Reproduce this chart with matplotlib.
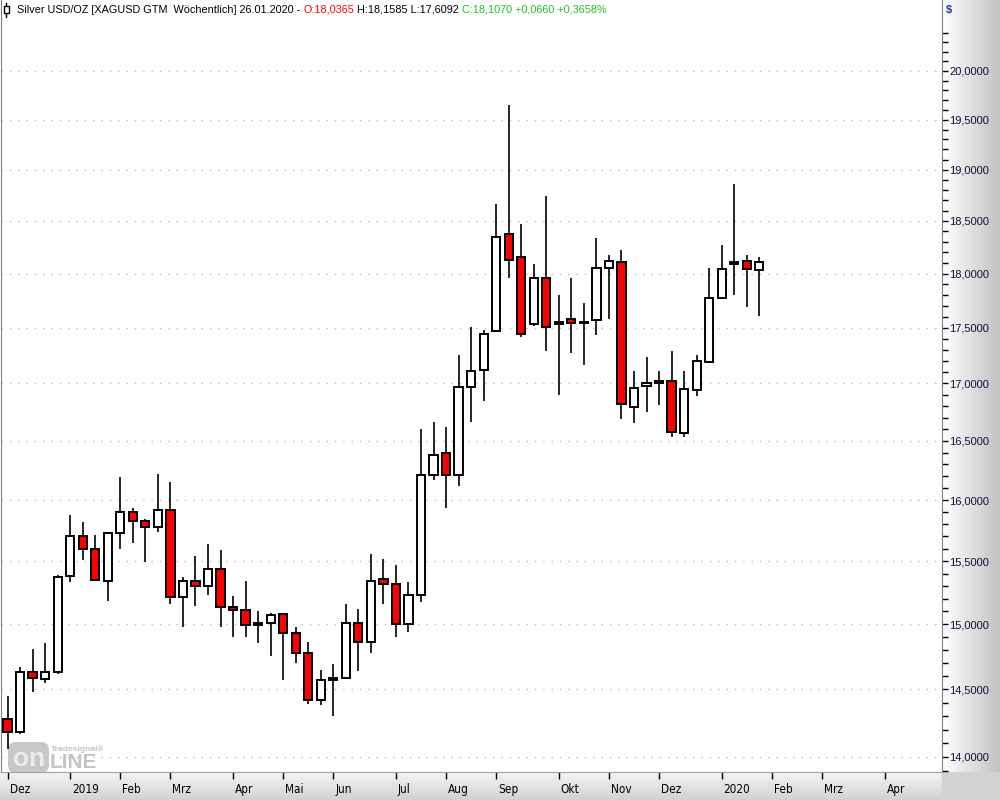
import numpy as np
import matplotlib
matplotlib.use('Agg')
import matplotlib.pyplot as plt
from matplotlib.patches import FancyBboxPatch, Rectangle
from matplotlib.lines import Line2D
from matplotlib.ticker import FixedLocator, FuncFormatter, NullFormatter
from matplotlib.transforms import ScaledTranslation

# weekly silver candles, week ending 02.12.2018 ... 26.01.2020
opens = [14.28, 14.18, 14.63, 14.58, 14.63, 15.38, 15.70, 15.60, 15.34, 15.73,
         15.90, 15.83, 15.78, 15.92, 15.21, 15.34, 15.30, 15.44, 15.135, 15.11,
         14.99, 15.01, 15.08, 14.93, 14.78, 14.42, 14.57, 14.585, 15.01, 14.86,
         15.36, 15.32, 15.00, 15.23, 16.21, 16.40, 16.21, 16.97, 17.12, 17.47,
         18.37, 18.16, 17.53, 17.96, 17.53, 17.58, 17.55, 17.57, 18.05, 18.11,
         16.79, 16.975, 17.00, 17.02, 16.565, 16.94, 17.19, 17.77, 18.09, 18.12,
         18.0365]
highs = [14.45, 14.67, 14.81, 14.85, 15.39, 15.88, 15.82, 15.71, 15.73, 16.19,
         15.93, 15.84, 16.22, 16.15, 15.375, 15.54, 15.64, 15.59, 15.22, 15.34,
         15.10, 15.09, 15.09, 14.98, 14.86, 14.65, 14.69, 15.16, 15.12, 15.56,
         15.52, 15.47, 15.33, 16.60, 16.66, 16.62, 17.25, 17.51, 17.48, 18.66,
         19.65, 18.47, 18.09, 18.74, 17.80, 17.96, 17.73, 18.34, 18.17, 18.22,
         17.11, 17.24, 17.11, 17.29, 17.11, 17.25, 18.05, 18.27, 18.86, 18.17,
         18.1585]
lows = [14.06, 14.17, 14.48, 14.55, 14.62, 15.33, 15.51, 15.34, 15.18, 15.60,
        15.65, 15.49, 15.74, 15.16, 14.98, 15.14, 15.23, 14.98, 14.90, 14.90,
        14.85, 14.75, 14.57, 14.70, 14.39, 14.38, 14.30, 14.58, 14.64, 14.78,
        15.16, 14.90, 14.94, 15.17, 16.17, 15.93, 16.12, 16.66, 16.85, 17.46,
        17.96, 17.42, 17.52, 17.29, 16.90, 17.27, 17.16, 17.43, 17.58, 16.69,
        16.65, 16.75, 16.81, 16.53, 16.53, 16.89, 17.18, 17.76, 17.80, 17.69,
        17.6092]
closes = [14.18, 14.63, 14.585, 14.63, 15.375, 15.70, 15.60, 15.35, 15.73, 15.90,
          15.83, 15.78, 15.92, 15.21, 15.34, 15.30, 15.44, 15.135, 15.11, 14.99,
          15.01, 15.07, 14.93, 14.775, 14.42, 14.57, 14.585, 15.01, 14.86, 15.34,
          15.32, 15.00, 15.23, 16.21, 16.38, 16.21, 16.97, 17.11, 17.44, 18.35,
          18.13, 17.44, 17.96, 17.51, 17.55, 17.545, 17.545, 18.05, 18.12, 16.82,
          16.96, 17.00, 17.02, 16.575, 16.95, 17.20, 17.77, 18.04, 18.11, 18.04,
          18.1070]

tick_pos = [0, 5, 9, 13, 18, 22, 26, 31, 35, 39, 44, 48, 52, 57, 61, 65, 70]
tick_labels = ['Dez', '2019', 'Feb', 'Mrz', 'Apr', 'Mai', 'Jun', 'Jul', 'Aug',
               'Sep', 'Okt', 'Nov', 'Dez', '2020', 'Feb', 'Mrz', 'Apr']
y_major = [14.0, 14.5, 15.0, 15.5, 16.0, 16.5, 17.0, 17.5, 18.0, 18.5, 19.0, 19.5, 20.0]

W, H = 1000, 800
fig = plt.figure(figsize=(10, 8), dpi=100)
fig.patch.set_facecolor('white')


def fx(px):
    return px / W


def fy(py):
    return 1 - py / H


# grey panels behind the axis labels
bg = fig.add_axes([0, 0, 1, 1], zorder=0)
grad_h = np.linspace(1.0, 0.76, 64).reshape(1, -1)
bg.imshow(grad_h, extent=(942, 1000, 772, 0), cmap='gray', vmin=0, vmax=1,
          aspect='auto', interpolation='bilinear')
grad_v = np.linspace(0.96, 0.82, 32).reshape(-1, 1)
bg.imshow(grad_v, extent=(0, 942, 800, 772), cmap='gray', vmin=0, vmax=1,
          aspect='auto', interpolation='bilinear')
bg.add_patch(Rectangle((942, 772), 58, 28, color='#d2d2d2'))
bg.set_xlim(0, W)
bg.set_ylim(H, 0)
bg.axis('off')

ax = fig.add_axes([0.001, 0.035, 0.941, 0.965], zorder=1)
ax.set_yscale('log')
ax.set_ylim(13.89, 20.752)
ax.set_xlim(-0.52, 74.58)

idx = np.arange(len(closes))
o = np.array(opens)
c = np.array(closes)
body_col = ['#ff0000' if cc < oo else 'white' for oo, cc in zip(o, c)]
bottoms = np.minimum(o, c)
heights = np.maximum(np.abs(c - o), 0.004)
ax.vlines(idx, lows, highs, color='black', linewidth=1.2, zorder=3)
ax.bar(idx, heights, 0.66, bottom=bottoms, color=body_col, edgecolor='black',
       linewidth=1.4, zorder=4)

# y axis on the right, comma decimals
ax.yaxis.tick_right()
ax.yaxis.set_major_locator(FixedLocator(y_major))
ax.yaxis.set_major_formatter(FuncFormatter(lambda v, p: ('%.4f' % v).replace('.', ',')))
minor = [round(v / 10, 1) for v in range(139, 206) if v % 5 != 0]
ax.yaxis.set_minor_locator(FixedLocator(minor))
ax.yaxis.set_minor_formatter(NullFormatter())
ax.tick_params(axis='y', which='both', direction='out', length=4, width=1,
               colors='black', labelsize=8, pad=1)
for lab in ax.get_yticklabels():
    lab.set_fontfamily(['Liberation Sans', 'DejaVu Sans'])
    lab.set_color('#10103a')
ax.grid(axis='y', which='major', color='#a8c4a8', linestyle=(0, (1, 5)), linewidth=1.0)
ax.grid(axis='x', visible=False)

ax.set_xticks(tick_pos)
ax.set_xticklabels(tick_labels, ha='left', fontsize=8.5, fontstretch='condensed',
                   fontfamily=['DejaVu Sans'])
ax.tick_params(axis='x', which='both', direction='out', length=5, width=1,
               colors='black', pad=3)
shift = ScaledTranslation(2 / 100, 0, fig.dpi_scale_trans)
for lab in ax.get_xticklabels():
    lab.set_transform(lab.get_transform() + shift)

ax.spines['top'].set_visible(False)
ax.spines['left'].set_color('#808080')
ax.spines['right'].set_color('#808080')
ax.spines['bottom'].set_color('#a0a0a0')

# Tradesignal watermark
logo = FancyBboxPatch((fx(8), fy(773)), 41 / W, 31 / H,
                      boxstyle='round,pad=0,rounding_size=0.008',
                      mutation_aspect=1.25, transform=fig.transFigure,
                      facecolor='#c8c8c8', edgecolor='none', zorder=1.5)
ax.add_patch(logo)
ax.text(fx(29), fy(759), 'on', transform=fig.transFigure, fontsize=19,
        fontweight='bold', color='#ececec', ha='center', va='center', zorder=1.6,
        fontfamily=['Liberation Sans', 'DejaVu Sans'])
ax.text(fx(50), fy(762), 'LINE', transform=fig.transFigure, fontsize=15,
        fontweight='bold', color='#c4c4c4', ha='left', va='center', zorder=1.6,
        fontfamily=['Liberation Sans', 'DejaVu Sans'])
ax.text(fx(51), fy(749), 'Tradesignal\u00ae', transform=fig.transFigure, fontsize=6,
        fontweight='bold', color='#c4c4c4', ha='left', va='center', zorder=1.6,
        fontfamily=['Liberation Sans', 'DejaVu Sans'])

# header line with coloured parts
hdr_font = ['Liberation Sans', 'DejaVu Sans']
ax.add_line(Line2D([fx(6), fx(6)], [fy(3), fy(17)], color='black', lw=1,
                   transform=fig.transFigure, zorder=10))
ax.add_patch(Rectangle((fx(3.5), fy(13)), 5 / W, 7 / H, transform=fig.transFigure,
                       facecolor='white', edgecolor='black', lw=1, zorder=11))
t1 = ax.text(fx(17), fy(10), 'Silver USD/OZ [XAGUSD GTM  W\u00f6chentlich] 26.01.2020 - ',
             transform=fig.transFigure, fontsize=7.8, color='black', va='center',
             fontfamily=hdr_font, zorder=10)
t2 = ax.annotate('O:18,0365', xy=(1, 0.5), xycoords=t1, va='center', ha='left',
                 fontsize=7.8, color='#ff0000', fontfamily=hdr_font, annotation_clip=False)
t3 = ax.annotate(' H:18,1585 L:17,6092 ', xy=(1, 0.5), xycoords=t2, va='center', ha='left',
                 fontsize=7.8, color='black', fontfamily=hdr_font, annotation_clip=False)
t4 = ax.annotate('C:18,1070 +0,0660 +0,3658%', xy=(1, 0.5), xycoords=t3, va='center',
                 ha='left', fontsize=7.8, color='#1fc21f', fontfamily=hdr_font,
                 annotation_clip=False)

ax.text(fx(946), fy(10), '$', transform=fig.transFigure, fontsize=8, fontweight='bold',
        color='#1a3c8c', va='center', ha='left', fontfamily=hdr_font, zorder=10)

fig.savefig('out.png', dpi=100)
